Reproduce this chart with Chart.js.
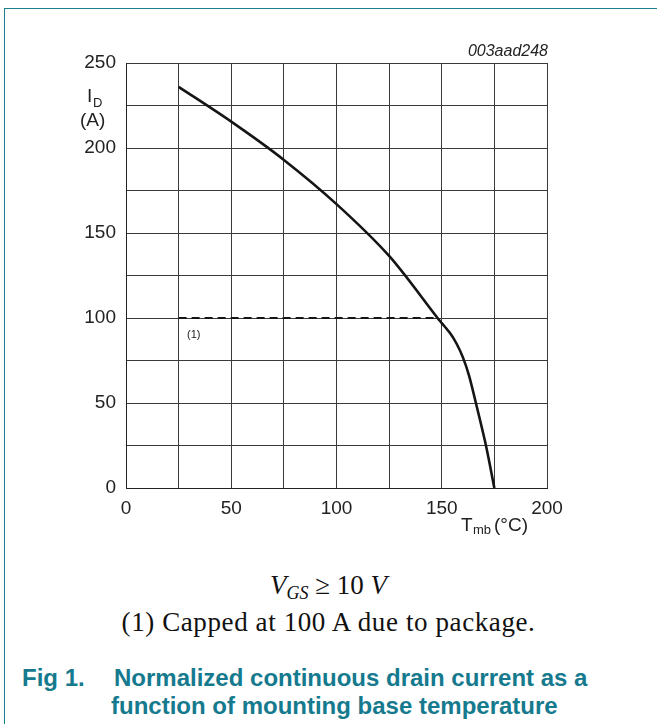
<!DOCTYPE html>
<html>
<head>
<meta charset="utf-8">
<script src="https://cdn.jsdelivr.net/npm/chart.js@4"></script>
<style>
  html, body { margin: 0; padding: 0; background: #fff; }
  body { width: 657px; height: 724px; position: relative; overflow: hidden; }
  .frame-top { position: absolute; left: 4px; top: 8px; right: 0; height: 0; border-top: 1.5px solid #1b7d8d; }
  .frame-left { position: absolute; left: 4px; top: 8px; bottom: 0; width: 0; border-left: 1.5px solid #1b7d8d; }
  #chartWrap { position: absolute; left: 0; top: 0; width: 657px; height: 540px; }
  .cap { position: absolute; left: 0; width: 657px; text-align: center; font-family: "Liberation Serif", serif; color: #111; line-height: 30px; }
  .cap1 { top: 570px; font-size: 27px; }
  .cap1 i { font-style: italic; }
  .cap1 sub { font-size: 18px; vertical-align: -5px; font-style: italic; }
  .cap2 { top: 607px; font-size: 27px; letter-spacing: 0.6px; }
  .title { position: absolute; font-family: "Liberation Sans", Arial, sans-serif; font-weight: bold; font-size: 24px; line-height: 24px; color: #157a8e; white-space: nowrap; }
</style>
</head>
<body>
<div class="frame-top"></div>
<div class="frame-left"></div>
<div id="chartWrap"><canvas id="deratingChart" width="657" height="540"></canvas></div>
<div class="cap cap1"><i>V</i><sub>GS</sub> &ge; 10 <i>V</i></div>
<div class="cap cap2">(1) Capped at 100 A due to package.</div>
<div class="title" style="left:22px; top:666px;">Fig 1.</div>
<div class="title" style="left:114px; top:666px;">Normalized continuous drain current as a</div>
<div class="title" style="left:111px; top:694px;">function of mounting base temperature</div>

<script>
// Tmb (degC) and ID (A)
const tempPoints = [25, 50, 75, 100, 125, 148, 150, 154, 157, 160, 163, 167, 171, 175];
const currentPoints = [236, 215.5, 193, 167, 136.5, 100, 97, 91, 85, 77, 66, 46, 25, 0];

// package cap line
const capTemps = [25, 148];
const capCurrent = [100, 100];

const xTicks = [0, 50, 100, 150, 200];
const yTicks = [0, 50, 100, 150, 200, 250];

const toXY = (xs, ys) => xs.map((x, i) => ({ x: x, y: ys[i] }));

const labelFont = '19px "Liberation Sans", Arial, sans-serif';
const subFont = '13px "Liberation Sans", Arial, sans-serif';

// axis names, figure code and the (1) marker
const extraText = {
    id: 'extraText',
    afterDraw(chart) {
        const ctx = chart.ctx;
        const area = chart.chartArea;
        const xs = chart.scales.x;
        const ys = chart.scales.y;
        ctx.save();
        ctx.fillStyle = '#222';
        ctx.textBaseline = 'alphabetic';

        // I_D (A)
        ctx.font = labelFont;
        ctx.textAlign = 'left';
        ctx.fillText('I', 87, 102);
        ctx.font = subFont;
        ctx.fillText('D', 93, 107);
        ctx.font = labelFont;
        ctx.fillText('(A)', 80, 126);

        // T_mb (degC)
        ctx.fillText('T', 461, 531);
        ctx.font = subFont;
        ctx.fillText('mb', 473, 534);
        ctx.font = labelFont;
        ctx.fillText('(\u00B0C)', 494, 531);

        // figure code
        ctx.font = 'italic 16px "Liberation Sans", Arial, sans-serif';
        ctx.textAlign = 'right';
        ctx.fillText('003aad248', area.right + 1, 56);

        // (1)
        ctx.font = '11px "Liberation Sans", Arial, sans-serif';
        ctx.textAlign = 'left';
        ctx.fillText('(1)', xs.getPixelForValue(29), ys.getPixelForValue(88));
        ctx.restore();
    }
};

new Chart(document.getElementById('deratingChart'), {
    type: 'line',
    data: {
        datasets: [
            {
                label: 'ID',
                data: toXY(tempPoints, currentPoints),
                borderColor: '#151515',
                borderWidth: 2.6,
                pointRadius: 0,
                tension: 0.3,
                fill: false
            },
            {
                label: 'cap',
                data: toXY(capTemps, capCurrent),
                borderColor: '#151515',
                borderWidth: 2,
                borderDash: [8, 5],
                pointRadius: 0,
                fill: false
            }
        ]
    },
    options: {
        responsive: false,
        devicePixelRatio: 1,
        animation: false,
        events: [],
        layout: { padding: { left: 0, top: 63, right: 110, bottom: 0 } },
        plugins: {
            legend: { display: false },
            tooltip: { enabled: false }
        },
        scales: {
            x: {
                type: 'linear',
                min: 0,
                max: 200,
                afterFit: (scale) => { scale.height = 52; },
                afterBuildTicks: (scale) => {
                    scale.ticks = [0, 25, 50, 75, 100, 125, 150, 175, 200].map(v => ({ value: v }));
                },
                grid: { color: '#3a3a3a', lineWidth: 1, drawTicks: false },
                border: { color: '#222', width: 1 },
                ticks: {
                    padding: 9,
                    color: '#222',
                    font: { family: '"Liberation Sans", Arial, sans-serif', size: 19 },
                    maxRotation: 0,
                    autoSkip: false,
                    callback: (v) => xTicks.includes(v) ? String(v) : ''
                }
            },
            y: {
                min: 0,
                max: 250,
                afterFit: (scale) => { scale.width = 126; },
                afterBuildTicks: (scale) => {
                    scale.ticks = [0, 25, 50, 75, 100, 125, 150, 175, 200, 225, 250].map(v => ({ value: v }));
                },
                grid: { color: '#3a3a3a', lineWidth: 1, drawTicks: false },
                border: { color: '#222', width: 1 },
                ticks: {
                    padding: 10,
                    color: '#222',
                    font: { family: '"Liberation Sans", Arial, sans-serif', size: 19 },
                    autoSkip: false,
                    callback: (v) => yTicks.includes(v) ? String(v) : ''
                }
            }
        }
    },
    plugins: [extraText]
});
</script>
</body>
</html>
